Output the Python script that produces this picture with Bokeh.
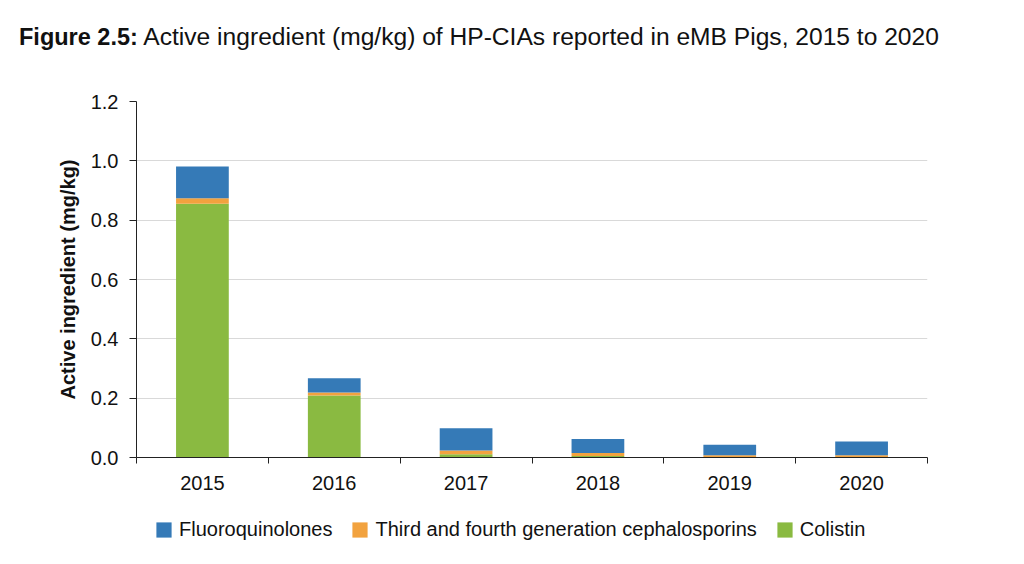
from bokeh.plotting import figure
from bokeh.models import (ColumnDataSource, Range1d, FixedTicker, PrintfTickFormatter,
                          Legend, LegendItem, Div)
from bokeh.layouts import column
from bokeh.embed import file_html
from bokeh.resources import INLINE

# ---- data ----
years = ["2015", "2016", "2017", "2018", "2019", "2020"]
colistin = [0.855, 0.209, 0.011, 0.005, 0.002, 0.002]
cephalosporins = [0.019, 0.010, 0.013, 0.010, 0.006, 0.006]
fluoroquinolones = [0.107, 0.048, 0.075, 0.047, 0.035, 0.046]
series_names = ["Fluoroquinolones", "Third and fourth generation cephalosporins", "Colistin"]
y_ticks = [0.0, 0.2, 0.4, 0.6, 0.8, 1.0, 1.2]
title_bold = "Figure 2.5:"
title_rest = "Active ingredient (mg/kg) of HP-CIAs reported in eMB Pigs, 2015 to 2020"

BLUE = "#357ab7"
ORANGE = "#f2a23e"
GREEN = "#8aba41"
FONT = "Liberation Sans"
TXT = "#111111"

W = 1008
TITLE_H = 50
MAIN_H = 445
LEG_H = 45

centers = [i + 0.5 for i in range(len(years))]
source = ColumnDataSource(dict(x=centers, col=colistin, ceph=cephalosporins, fq=fluoroquinolones))

# ---- main chart ----
p = figure(width=W, height=MAIN_H, output_backend="svg", toolbar_location=None,
           x_range=Range1d(0, len(years)), y_range=Range1d(0, 1.2),
           min_border_left=136, min_border_right=81, min_border_top=41,
           min_border_bottom=48)
p.outline_line_color = None
p.background_fill_color = "white"
p.border_fill_color = "white"

rs = p.vbar_stack(["col", "ceph", "fq"], x="x", width=0.4, source=source,
                  color=[GREEN, ORANGE, BLUE], line_color=None)

p.xgrid.visible = False
p.ygrid.grid_line_color = "#d9d9d9"
p.ygrid.grid_line_width = 1

p.xaxis.ticker = FixedTicker(ticks=centers, minor_ticks=list(range(len(years) + 1)))
p.xaxis.major_label_overrides = {c: y for c, y in zip(centers, years)}
p.xaxis.major_tick_out = 0
p.xaxis.major_tick_in = 0
p.xaxis.minor_tick_out = 6
p.xaxis.minor_tick_in = 0
p.xaxis.major_label_standoff = 12

p.yaxis.ticker = FixedTicker(ticks=y_ticks)
p.yaxis.formatter = PrintfTickFormatter(format="%.1f")
p.yaxis.major_tick_out = 7
p.yaxis.major_tick_in = 0
p.yaxis.minor_tick_out = 0
p.yaxis.minor_tick_in = 0
p.yaxis.major_label_standoff = 11
p.yaxis.axis_label = "Active ingredient (mg/kg)"
p.yaxis.axis_label_text_font_style = "bold"
p.yaxis.axis_label_text_font_size = "20px"
p.yaxis.axis_label_text_font = FONT
p.yaxis.axis_label_text_color = TXT
p.yaxis.axis_label_standoff = 9

for ax in (p.xaxis, p.yaxis):
    ax.axis_line_color = "#222222"
    ax.axis_line_width = 1
    ax.major_tick_line_color = "#222222"
    ax.minor_tick_line_color = "#222222"
    ax.major_label_text_font = FONT
    ax.major_label_text_font_size = "20px"
    ax.major_label_text_color = TXT

# ---- legend strip (its bars lie outside its visible range; only the legend shows) ----
lg = figure(width=W, height=LEG_H, output_backend="svg", toolbar_location=None,
            x_range=Range1d(0, len(years)), y_range=Range1d(5, 6),
            min_border_left=0, min_border_right=0, min_border_top=0, min_border_bottom=0,
            x_axis_type=None, y_axis_type=None)
lg.outline_line_color = None
lg.grid.visible = False
leg_rs = [lg.vbar(x="x", top=f, width=0.4, source=source, color=c, line_color=None)
          for f, c in zip(["fq", "ceph", "col"], [BLUE, ORANGE, GREEN])]
items = [LegendItem(label=n, renderers=[r]) for n, r in zip(series_names, leg_rs)]
legend = Legend(items=items, orientation="horizontal", location=(18, 9),
                glyph_width=19, glyph_height=19, label_standoff=6, spacing=18,
                padding=0, margin=0, border_line_color=None, background_fill_alpha=0,
                label_text_font=FONT, label_text_font_size="20px", label_text_color=TXT,
                label_height=19)
lg.add_layout(legend, "center")

# ---- title ----
title = Div(text=(f'<div style="padding-top:14px;padding-left:14px;white-space:nowrap;'
                  f'font-family:{FONT};color:{TXT};">'
                  f'<b style="font-size:23.5px;">{title_bold}</b>'
                  f'<span style="font-size:24.6px;"> {title_rest}</span></div>'),
            width=W, height=TITLE_H)

layout = column(title, p, lg, spacing=0)
open("out.html", "w").write(file_html(layout, INLINE))
